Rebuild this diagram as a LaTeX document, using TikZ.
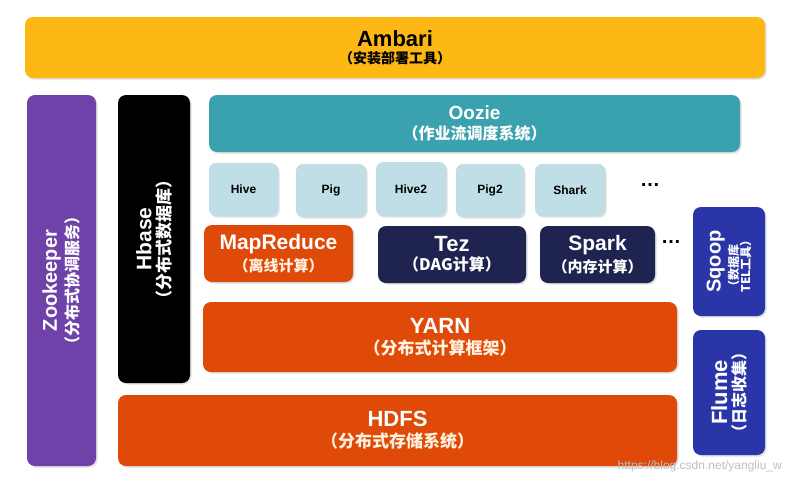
\documentclass[tikz,border=0pt]{standalone}
\usepackage{fontspec}
\setmainfont{Liberation Sans}
\newfontfamily\cjk{Noto Sans CJK SC}
\usetikzlibrary{shadows}
\newcommand{\zhtxt}[2]{{\cjk\bfseries\fontsize{#1}{#1}\selectfont #2}}
\newcommand{\entxt}[2]{{\bfseries\fontsize{#1}{#1}\selectfont #2}}
\definecolor{cAmbari}{HTML}{FDB813}
\definecolor{cZoo}{HTML}{6F42A9}
\definecolor{cOozie}{HTML}{3AA2AF}
\definecolor{cLight}{HTML}{C0DEE6}
\definecolor{cOrange}{HTML}{DF4A08}
\definecolor{cNavy}{HTML}{1E2350}
\definecolor{cBlue}{HTML}{2A36A8}
\definecolor{cSub}{HTML}{FFF2E0}
\begin{document}
\begin{tikzpicture}[x=1pt,y=-1pt,
  box/.style={rectangle, rounded corners=8pt, inner sep=0pt, align=center,
    drop shadow={shadow xshift=1.5pt, shadow yshift=-1.5pt, opacity=0.25}},
  lightbox/.style={box, fill=cLight, text=black, rounded corners=7pt},
  vtext/.style={rotate=90, align=center, text=white, inner sep=0pt},
  dots/.style={inner sep=0pt, font=\bfseries\fontsize{20}{20}\selectfont}]
\useasboundingbox (0,0) rectangle (787,485);
\fill[white] (0,0) rectangle (787,485);
% Ambari
\node[box, fill=cAmbari, text=black, minimum width=740pt, minimum height=61pt] (ambari) at (395,47.5)
  {\entxt{22}{Ambari}\\[4pt]\zhtxt{14}{（安装部署工具）}};
% Zookeeper
\node[box, fill=cZoo, minimum width=69pt, minimum height=371pt] (zoo) at (61.5,280.5) {};
\node[vtext] (zootxt) at (zoo.center)
  {\entxt{20}{Zookeeper}\\[3pt]\zhtxt{16}{（分布式协调服务）}};
% Hbase
\node[box, fill=black, minimum width=72pt, minimum height=288pt] (hbase) at (154,239) {};
\node[vtext] (hbasetxt) at (hbase.center)
  {\entxt{21}{Hbase}\\[3pt]\zhtxt{17}{（分布式数据库）}};
% Oozie
\node[box, fill=cOozie, text=white, minimum width=531pt, minimum height=57pt] (oozie) at (474.5,123.5)
  {\entxt{19}{Oozie}\\[5pt]\zhtxt{16}{（作业流调度系统）}};
% Light boxes
\node[lightbox, minimum width=69pt, minimum height=53pt] (hive) at (243.5,189.5) {\entxt{12}{Hive}};
\node[lightbox, minimum width=70pt, minimum height=53pt] (pig) at (331,190.5) {\entxt{12}{Pig}};
\node[lightbox, minimum width=70pt, minimum height=54pt] (hive2) at (411,189) {\entxt{12}{Hive2}};
\node[lightbox, minimum width=68pt, minimum height=53pt] (pig2) at (490,190.5) {\entxt{12}{Pig2}};
\node[lightbox, minimum width=70pt, minimum height=52pt] (shark) at (570,190) {\entxt{12}{Shark}};
\node[dots] (dotsa) at (650,185) {…};
% Compute engines
\node[box, fill=cOrange, text=white, minimum width=149pt, minimum height=57pt] (mr) at (278.5,253.5)
  {\entxt{21}{MapReduce}\\[4pt]\color{cSub}\zhtxt{15}{（离线计算）}};
\node[box, fill=cNavy, text=white, minimum width=148pt, minimum height=57pt] (tez) at (452,254.5)
  {\entxt{22}{Tez}\\[4pt]\zhtxt{16}{（DAG计算）}};
\node[box, fill=cNavy, text=white, minimum width=115pt, minimum height=57pt] (spark) at (597.5,254.5)
  {\entxt{21}{Spark}\\[4pt]\zhtxt{15}{（内存计算）}};
\node[dots] (dotsb) at (671,242) {…};
% Sqoop
\node[box, fill=cBlue, minimum width=72pt, minimum height=109pt] (sqoop) at (729,261.5) {};
\node[vtext, align=left] (sqooptxt) at (sqoop.center)
  {\entxt{20}{Sqoop}\\[2pt]\zhtxt{12}{（数据库}\\[0pt]\zhtxt{12}{TEL工具）}};
% YARN
\node[box, fill=cOrange, text=white, minimum width=474pt, minimum height=70pt] (yarn) at (440,337)
  {\entxt{22}{YARN}\\[5pt]\color{cSub}\zhtxt{17}{（分布式计算框架）}};
% HDFS
\node[box, fill=cOrange, text=white, minimum width=559pt, minimum height=71pt] (hdfs) at (397.5,430.5)
  {\entxt{22}{HDFS}\\[5pt]\color{cSub}\zhtxt{17}{（分布式存储系统）}};
% Flume
\node[box, fill=cBlue, minimum width=72pt, minimum height=125pt] (flume) at (729,392.5) {};
\node[vtext] (flumetxt) at (flume.center)
  {\entxt{22}{Flume}\\[3pt]\zhtxt{16}{（日志收集）}};
% watermark
\node[anchor=east, inner sep=0pt, text=black!25, font=\fontsize{12}{12}\selectfont] (wm) at (782,466) {https://blog.csdn.net/yangliu\_w};
\end{tikzpicture}
\end{document}
